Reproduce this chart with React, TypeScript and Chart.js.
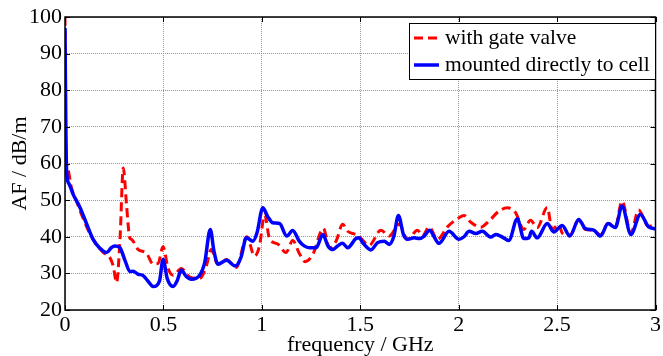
import React, { useEffect, useRef } from "react";
import { Chart, registerables } from "chart.js";

Chart.register(...registerables);

// frequency / GHz and AF / dB/m, series "with gate valve"
const freqGate = [
  0, 0.003, 0.017, 0.03, 0.06, 0.1, 0.14, 0.194, 0.228, 0.245, 0.262, 0.28, 0.296, 0.313, 0.329, 0.338,
  0.372, 0.414, 0.448, 0.473, 0.498, 0.524, 0.549, 0.591, 0.634, 0.684, 0.718, 0.743, 0.777, 0.82, 0.87,
  0.924, 0.963, 0.988, 1.014, 1.039, 1.081, 1.123, 1.157, 1.19, 1.22, 1.259, 1.313, 1.343, 1.377, 1.411,
  1.436, 1.478, 1.495, 1.546, 1.605, 1.647, 1.698, 1.74, 1.791, 1.816, 1.85, 1.892, 1.943, 2.002, 2.027,
  2.061, 2.112, 2.154, 2.205, 2.247, 2.289, 2.331, 2.365, 2.399, 2.45, 2.475, 2.509, 2.526, 2.565, 2.61,
  2.644, 2.686, 2.72, 2.759, 2.796, 2.83, 2.875, 2.914, 2.965, 3.0,
];
const afGate = [
  100, 66, 58, 54, 49.5, 44, 39.5, 35.7, 34.3, 32, 27.5, 40, 58.8, 48.4, 39.7, 39.3,
  36.5, 35.5, 32.5, 32.7, 37.3, 31.3, 29.5, 31.3, 29, 28.6, 32, 36.5, 32.5, 33.8, 31.6,
  40, 34.7, 37.5, 46, 39.5, 38, 35.7, 39, 35.5, 33.2, 35.2, 42.3, 37, 38.8, 43.4,
  41.5, 40.6, 40, 37.7, 41.8, 40.2, 43.4, 39.3, 41.8, 40.2, 42.7, 39.3, 42.7, 45.2, 45.8,
  44, 42.6, 44.3, 47, 47.9, 46.6, 42, 44.5, 42.5, 48, 42, 43.4, 41, 40.5, 44.5,
  42, 41.8, 40.5, 43.6, 42.8, 49.7, 41, 47.3, 42.8, 43.4,
];

// series "mounted directly to cell"
const freqDirect = [
  0, 0.004, 0.008, 0.02, 0.042, 0.076, 0.11, 0.143, 0.175, 0.211, 0.235, 0.253, 0.279, 0.305, 0.33, 0.346,
  0.37, 0.397, 0.42, 0.448, 0.48, 0.498, 0.52, 0.549, 0.57, 0.591, 0.615, 0.642, 0.684, 0.71, 0.738,
  0.757, 0.777, 0.82, 0.865, 0.895, 0.921, 0.955, 0.975, 1.005, 1.03, 1.056, 1.09, 1.127, 1.157, 1.19,
  1.215, 1.242, 1.276, 1.31, 1.336, 1.36, 1.385, 1.41, 1.436, 1.478, 1.495, 1.512, 1.554, 1.588, 1.622,
  1.647, 1.67, 1.694, 1.72, 1.74, 1.774, 1.8, 1.825, 1.853, 1.875, 1.9, 1.951, 2.002, 2.027, 2.053,
  2.087, 2.12, 2.163, 2.188, 2.213, 2.255, 2.298, 2.331, 2.357, 2.37, 2.399, 2.45, 2.483, 2.526, 2.565,
  2.61, 2.644, 2.686, 2.72, 2.759, 2.796, 2.83, 2.875, 2.923, 2.965, 3.0,
];
const afDirect = [
  97, 72, 58, 54.5, 51.5, 48, 43.5, 39.3, 37, 35.7, 37, 37.5, 37, 33.5, 30.5, 30.6,
  29.8, 29.4, 28, 26.4, 27.9, 33.8, 28.5, 26.4, 28, 30.9, 29.2, 28.4, 29.5, 33, 42,
  36, 32.5, 33.6, 32, 34.5, 39.7, 38.8, 41, 47.9, 45.5, 43.8, 43.6, 40.2, 41.7, 38.8,
  37.5, 37, 37, 40.6, 37.5, 36.5, 37.5, 38.2, 37, 39.5, 39.7, 38.4, 36.4, 38.4, 38.8,
  37.9, 40, 45.8, 40.5, 39.3, 39.7, 39.5, 40.2, 41.8, 40, 38.2, 41.5, 39.3, 40, 41.5,
  40.9, 41.5, 39.9, 40.6, 40.2, 39, 44.9, 39.5, 39.7, 41.5, 39.7, 43.6, 41.3, 43.1, 40.2,
  44.7, 42.2, 41.8, 40.2, 43.6, 42.5, 48.4, 40.6, 46.1, 42.7, 42.2,
];

const xTicks = [0, 0.5, 1, 1.5, 2, 2.5, 3];
const xTickLabels = ["0", "0.5", "1", "1.5", "2", "2.5", "3"];
const yTicks = [20, 30, 40, 50, 60, 70, 80, 90, 100];
const seriesLabels = ["with gate valve", "mounted directly to cell"];

const FONT = "'Liberation Serif', 'Times New Roman', serif";

const boxPlugin = {
  id: "matlabBox",
  afterDraw(chart: any) {
    const { ctx, chartArea } = chart;
    const { left, right, top, bottom } = chartArea;
    const xs = chart.scales.x;
    const ys = chart.scales.y;
    ctx.save();
    ctx.strokeStyle = "#000";
    ctx.lineWidth = 1.5;
    ctx.setLineDash([]);
    ctx.strokeRect(left, top, right - left, bottom - top);
    ctx.lineWidth = 1;
    const tl = 5;
    ctx.beginPath();
    xTicks.forEach((v) => {
      const px = Math.round(xs.getPixelForValue(v)) + 0.5;
      ctx.moveTo(px, bottom);
      ctx.lineTo(px, bottom - tl);
      ctx.moveTo(px, top);
      ctx.lineTo(px, top + tl);
    });
    yTicks.forEach((v) => {
      const py = Math.round(ys.getPixelForValue(v)) + 0.5;
      ctx.moveTo(left, py);
      ctx.lineTo(left + tl, py);
      ctx.moveTo(right, py);
      ctx.lineTo(right - tl, py);
    });
    ctx.stroke();

    // legend
    const lx = 409, ly = 23, lw = 246, lh = 56;
    ctx.fillStyle = "#fff";
    ctx.fillRect(lx, ly, lw, lh);
    ctx.strokeStyle = "#000";
    ctx.lineWidth = 1;
    ctx.strokeRect(lx + 0.5, ly + 0.5, lw, lh);
    const rows = [38, 65];
    chart.data.datasets.forEach((ds: any, i: number) => {
      const y = rows[i];
      ctx.strokeStyle = ds.borderColor;
      ctx.lineWidth = ds.borderWidth;
      ctx.setLineDash(ds.borderDash || []);
      ctx.beginPath();
      ctx.moveTo(414, y);
      ctx.lineTo(439, y);
      ctx.stroke();
      ctx.setLineDash([]);
      ctx.fillStyle = "#000";
      ctx.font = `21.5px ${FONT}`;
      ctx.textBaseline = "middle";
      ctx.textAlign = "left";
      ctx.fillText(ds.label, 445, y);
    });
    ctx.restore();
  },
};

export default function App() {
  const ref = useRef<HTMLCanvasElement | null>(null);
  useEffect(() => {
    if (!ref.current) return;
    const chart = new Chart(ref.current, {
      type: "line",
      data: {
        datasets: [
          {
            label: seriesLabels[0],
            data: freqGate.map((f, i) => ({ x: f, y: afGate[i] })),
            borderColor: "#ff0000",
            borderWidth: 3,
            borderDash: [9, 5],
            pointRadius: 0,
            cubicInterpolationMode: "monotone",
            order: 2,
          },
          {
            label: seriesLabels[1],
            data: freqDirect.map((f, i) => ({ x: f, y: afDirect[i] })),
            borderColor: "#0000ff",
            borderWidth: 3.5,
            pointRadius: 0,
            cubicInterpolationMode: "monotone",
            order: 1,
          },
        ],
      },
      options: {
        animation: false,
        responsive: false,
        devicePixelRatio: 1,
        layout: { padding: { top: 17, right: 6, left: 0, bottom: 0 } },
        plugins: { legend: { display: false }, tooltip: { enabled: false } },
        scales: {
          x: {
            type: "linear",
            min: 0,
            max: 3,
            afterBuildTicks: (s: any) => {
              s.ticks = xTicks.map((v) => ({ value: v }));
            },
            afterFit: (s: any) => {
              s.height = 46;
            },
            ticks: {
              color: "#000",
              font: { family: FONT, size: 22 },
              padding: 2,
              maxRotation: 0,
              callback: (_v: any, i: number) => xTickLabels[i],
            },
            grid: { color: "#999999", lineWidth: 1, drawTicks: false },
            border: { display: false, dash: [1, 1] },
            title: {
              display: true,
              text: "frequency / GHz",
              color: "#000",
              font: { family: FONT, size: 22, lineHeight: 1 },
              padding: 0,
            },
          },
          y: {
            type: "linear",
            min: 20,
            max: 100,
            afterBuildTicks: (s: any) => {
              s.ticks = yTicks.map((v) => ({ value: v }));
            },
            afterFit: (s: any) => {
              s.width = 65;
            },
            ticks: {
              color: "#000",
              font: { family: FONT, size: 22 },
              padding: 3,
            },
            grid: { color: "#999999", lineWidth: 1, drawTicks: false },
            border: { display: false, dash: [1, 1] },
            title: {
              display: true,
              text: "AF / dB/m",
              color: "#000",
              font: { family: FONT, size: 22, lineHeight: 1 },
              padding: { top: 9, bottom: 0 },
            },
          },
        },
      },
      plugins: [boxPlugin],
    } as any);
    return () => chart.destroy();
  }, []);
  return (
    <div style={{ position: "absolute", left: 0, top: 0, width: 663, height: 356, background: "#fff" }}>
      <canvas ref={ref} width={663} height={356} style={{ width: 663, height: 356, display: "block" }} />
    </div>
  );
}
